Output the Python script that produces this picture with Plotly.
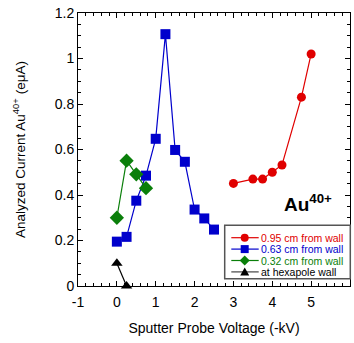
import plotly.graph_objects as go

# Sputter probe voltage (-kV) and analyzed Au40+ current (eμA) per probe position
x_095 = [3.0, 3.5, 3.75, 4.0, 4.25, 4.75, 5.0]
y_095 = [0.451, 0.470, 0.470, 0.500, 0.532, 0.830, 1.020]

x_063 = [0.0, 0.25, 0.5, 0.75, 1.0, 1.25, 1.5, 1.75, 2.0, 2.25, 2.5]
y_063 = [0.195, 0.216, 0.375, 0.485, 0.647, 1.107, 0.598, 0.546, 0.336, 0.297, 0.248]

x_032 = [0.0, 0.25, 0.5, 0.75]
y_032 = [0.300, 0.551, 0.491, 0.430]

x_wall = [0.0, 0.25]
y_wall = [0.100, 0.000]

series_names = ["0.95 cm from wall", "0.63 cm from wall", "0.32 cm from wall", "at hexapole wall"]
series_x = [x_095, x_063, x_032, x_wall]
series_y = [y_095, y_063, y_032, y_wall]
series_colors = ["#e00000", "#0000cc", "#0a7f0a", "#000000"]
series_symbols = ["circle", "square", "diamond", "triangle-up"]
series_sizes = [9, 10, 11, 10]

# x tick labels use a plain hyphen for the negative value
x_tick_vals = [-1, 0, 1, 2, 3, 4, 5, 6]
x_tick_text = ["-1", "0", "1", "2", "3", "4", "5", "6"]

# plot area in pixels (used to place the boxed key in paper coordinates)
L, R, T, B = 78, 4, 13, 57
W, H = 354, 343
PW, PH = W - L - R, H - T - B


def px_to_paper(px, py):
    return (px - L) / PW, (H - B - py) / PH


fig = go.Figure()
for name, xs, ys, color, symbol, size in zip(series_names, series_x, series_y,
                                             series_colors, series_symbols, series_sizes):
    fig.add_trace(go.Scatter(
        x=xs, y=ys, name=name, mode="lines+markers",
        line=dict(color=color, width=1.2),
        marker=dict(symbol=symbol, size=size, color=color),
        cliponaxis=False, showlegend=False,
    ))

axis_common = dict(
    showline=True, linecolor="black", linewidth=1, mirror="allticks",
    ticks="inside", ticklen=5, tickcolor="black", showgrid=False, zeroline=False,
    tickfont=dict(size=14, color="black"),
)

fig.update_xaxes(
    range=[-1, 6], tickmode="array", tickvals=x_tick_vals, ticktext=x_tick_text,
    ticklabelstandoff=3,
    minor=dict(ticks="inside", ticklen=3, dtick=0.2, tick0=-1, tickcolor="black"),
    title=dict(text="Sputter Probe Voltage (-kV)", font=dict(size=14, color="black"), standoff=14),
    **axis_common,
)
fig.update_yaxes(
    range=[0, 1.2], dtick=0.2,
    minor=dict(ticks="inside", ticklen=3, dtick=0.05, tickcolor="black"),
    title=dict(text="Analyzed Current Au<sup>40+</sup> (eμA)", font=dict(size=13.5, color="black"), standoff=26),
    **axis_common,
)

fig.add_annotation(
    x=4.93, y=0.365, xref="x", yref="y", text="<b>Au<sup>40+</sup></b>",
    showarrow=False, font=dict(size=19, color="black"),
)

# boxed key in the lower right corner
shapes = []
bx0, by0 = px_to_paper(224.7, 278.7)
bx1, by1 = px_to_paper(350.3, 225.3)
shapes.append(dict(type="rect", xref="paper", yref="paper", x0=bx0, y0=by0, x1=bx1, y1=by1,
                   fillcolor="white", line=dict(color="#555555", width=1.5), layer="above"))

marker_paths = {
    "circle": None,
    "square": "M -4,-4 L 4,-4 L 4,4 L -4,4 Z",
    "diamond": "M 0,-5 L 5,0 L 0,5 L -5,0 Z",
    "triangle-up": "M -4.5,-3.5 L 4.5,-3.5 L 0,4.5 Z",
}
row_y0, row_step = 237.7, 11.4
for i, (name, color, symbol) in enumerate(zip(series_names, series_colors, series_symbols)):
    py = row_y0 + i * row_step
    lx0, ly = px_to_paper(231.3, py)
    lx1, _ = px_to_paper(258.7, py)
    mx, _ = px_to_paper(244.7, py)
    tx, _ = px_to_paper(260.3, py)
    line_color = "#444444" if color == "#000000" else color
    shapes.append(dict(type="line", xref="paper", yref="paper", x0=lx0, x1=lx1, y0=ly, y1=ly,
                       line=dict(color=line_color, width=1.2), layer="above"))
    if symbol == "circle":
        shapes.append(dict(type="circle", xref="paper", yref="paper",
                           xsizemode="pixel", ysizemode="pixel", xanchor=mx, yanchor=ly,
                           x0=-4, x1=4, y0=-4, y1=4, fillcolor=color,
                           line=dict(color=color, width=0), layer="above"))
    else:
        shapes.append(dict(type="path", xref="paper", yref="paper",
                           xsizemode="pixel", ysizemode="pixel", xanchor=mx, yanchor=ly,
                           path=marker_paths[symbol], fillcolor=color,
                           line=dict(color=color, width=0), layer="above"))
    fig.add_annotation(x=tx, y=ly, xref="paper", yref="paper", text=name,
                       xanchor="left", yanchor="middle", showarrow=False,
                       font=dict(size=10.5, color=color), borderpad=0)

fig.update_layout(
    width=W, height=H,
    margin=dict(l=L, r=R, t=T, b=B),
    paper_bgcolor="white", plot_bgcolor="white",
    font=dict(family="Liberation Sans, Arial, sans-serif", color="black"),
    shapes=shapes,
    showlegend=False,
)

fig.write_html("out.html")
